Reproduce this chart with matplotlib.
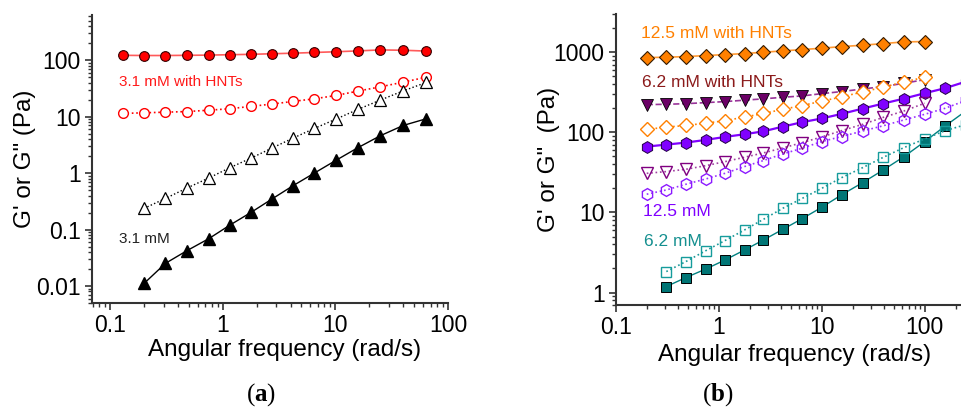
import matplotlib.pyplot as plt
import matplotlib.ticker as ticker
import numpy as np

plt.rcParams['font.family'] = ['Liberation Sans', 'DejaVu Sans']
plt.rcParams['mathtext.fontset'] = 'custom'
plt.rcParams['mathtext.bf'] = 'Liberation Serif:bold'
plt.rcParams['mathtext.rm'] = 'Liberation Serif'

# angular frequency (rad/s)
w_a = [0.13, 0.2, 0.31, 0.48, 0.75, 1.15, 1.78, 2.73, 4.2, 6.5, 10.1, 15.8, 25, 40, 64]
w_b = [0.2, 0.31, 0.48, 0.75, 1.15, 1.78, 2.72, 4.2, 6.47, 10, 15.6, 25, 39.7, 63, 100, 158, 251]

# (a) 3.1 mM with HNTs
g1_hnt = [122, 121, 121, 122, 123, 125, 127, 130, 133, 137, 141, 146, 152, 150, 145]
g2_hnt = [11.4, 11.7, 12.0, 12.3, 13.0, 13.8, 15.2, 16.7, 18.6, 20.7, 23.7, 28.3, 33.7, 40.8, 50]
# (a) 3.1 mM, no HNTs (starts at 0.2 rad/s)
g1_31 = [0.0111, 0.0252, 0.0422, 0.0688, 0.119, 0.201, 0.347, 0.597, 1.0, 1.68, 2.81, 4.58, 6.98, 9.17]
g2_31 = [0.237, 0.356, 0.543, 0.817, 1.24, 1.84, 2.77, 4.16, 6.18, 9.03, 13.4, 19.6, 28.6, 40.3]

# (b) 12.5 mM with HNTs
g1_125h = [858, 866, 883, 909, 935, 962, 1000, 1039, 1080, 1122, 1177, 1223, 1283, 1346, 1359]
g2_125h = [109, 116, 122, 130, 140, 155, 172, 194, 216, 245, 277, 320, 366, 426, 487]
# (b) 6.2 mM with HNTs
g1_62h = [222, 224, 228, 235, 242, 252, 262, 274, 285, 304, 323, 348, 373, 410, 455]
g2_62h = [30.8, 32.4, 34.6, 38.4, 43.1, 48.9, 55.4, 63.9, 74.5, 87.7, 105, 126, 154, 185, 231]
# (b) 12.5 mM
g1_125 = [66.4, 70.3, 74.5, 80.5, 87.7, 94.7, 103, 118, 134, 149, 170, 198, 229, 264, 308, 356, 430]
g2_125 = [16.9, 19.1, 22.5, 26.2, 30.8, 37.4, 44.5, 53.8, 63.4, 76.8, 88.6, 104, 121, 143, 168, 200, 250]
# (b) 6.2 mM (starts at 0.31 rad/s)
g1_62 = [1.19, 1.54, 1.97, 2.55, 3.40, 4.54, 6.17, 8.38, 11.6, 16.6, 23.6, 34.0, 49.8, 76.7, 120, 185]
g2_62 = [1.83, 2.44, 3.34, 4.46, 6.05, 8.22, 11.3, 15.0, 20.0, 27.2, 36.3, 48.9, 64.6, 82.8, 105, 125]

fig = plt.figure(figsize=(9.61, 4.07), dpi=100)
ax1 = fig.add_axes([0.0957, 0.2555, 0.3705, 0.7075])
ax2 = fig.add_axes([0.6407, 0.2506, 0.3593, 0.715])


def style(ax):
    ax.set_xscale('log')
    ax.set_yscale('log')
    for s in ['top', 'right']:
        ax.spines[s].set_visible(False)
    for s in ['left', 'bottom']:
        ax.spines[s].set_linewidth(1.5)
        ax.spines[s].set_color('#333333')
    ax.tick_params(which='major', direction='out', length=5, width=1.2,
                   labelsize=16.5, color='#333333', pad=3)
    ax.tick_params(which='minor', direction='out', length=3, width=1.0, color='#333333')
    fmt = ticker.FuncFormatter(lambda v, p: '%g' % v)
    ax.xaxis.set_major_formatter(fmt)
    ax.yaxis.set_major_formatter(fmt)
    ax.xaxis.set_minor_formatter(ticker.NullFormatter())
    ax.yaxis.set_minor_formatter(ticker.NullFormatter())
    ax.xaxis.set_minor_locator(ticker.LogLocator(subs=np.arange(2, 10), numticks=20))
    ax.yaxis.set_minor_locator(ticker.LogLocator(subs=np.arange(2, 10), numticks=20))


# ---- (a) ----
style(ax1)
ax1.plot(w_a, g1_hnt, '-', color='#ff5a5a', lw=1.2, marker='o', ms=7,
         mfc='#ff0000', mec='#330000', mew=0.8)
ax1.plot(w_a, g2_hnt, ':', color='#ff0000', lw=1.2, marker='o', ms=7,
         mfc='white', mec='#ff0000', mew=1.0)
ax1.plot(w_a[1:], g2_31, ':', color='black', lw=1.0, marker='^', ms=8.5,
         mfc='white', mec='black', mew=0.9)
ax1.plot(w_a[1:], g1_31, '-', color='black', lw=1.0, marker='^', ms=8.5,
         mfc='black', mec='black')
ax1.set_xlim(0.069, 100)
ax1.set_ylim(0.005, 630)
ax1.set_yticks([0.01, 0.1, 1, 10, 100])
ax1.set_xticks([0.1, 1, 10, 100])
ax1.text(0.12, 41, '3.1 mM with HNTs', color='#ff1a1a', fontsize=11, va='center')
ax1.text(0.12, 0.069, '3.1 mM', color='#222222', fontsize=11, va='center')
ax1.set_xlabel('Angular frequency (rad/s)', fontsize=17.5)
ax1.xaxis.set_label_coords(0.542, -0.125)
ax1.set_ylabel('G\' or G" (Pa)', fontsize=17.5)
ax1.yaxis.set_label_coords(-0.157, 0.5)

# ---- (b) ----
style(ax2)
ax2.plot(w_b[:15], g1_125h, '-', color='#ff9933', lw=1.2, marker='D', ms=7,
         mfc='#ff8000', mec='#331a00', mew=0.8, zorder=3)
ax2.plot(w_b[:15], g1_62h, '--', color='#993399', lw=1.2, marker='v', ms=8.5,
         mfc='#6b0066', mec='black', mew=0.6, zorder=3)
ax2.plot(w_b[:15], g2_125h, ':', color='#ff8000', lw=1.2, marker='D', ms=7,
         mfc='white', mec='#ff8000', mew=1.0, zorder=4)
ax2.plot(w_b, g1_125, '-', color='#8000ff', lw=1.6, marker='h', ms=8.5,
         mfc='#8000ff', mec='#220044', mew=0.7, zorder=3)
ax2.plot(w_b[:15], g2_62h, ':', color='#a040a0', lw=1.2, marker='v', ms=8.5,
         mfc='none', mec='#800080', mew=1.0, zorder=3)
ax2.plot(w_b, g2_125, ':', color='#9933ff', lw=1.2, marker='h', ms=8.5,
         mfc='none', mec='#8c1aff', mew=1.0, zorder=3)
ax2.plot(w_b[1:], g1_62, '-', color='#008080', lw=1.0, marker='s', ms=6.5,
         mfc='#007575', mec='black', mew=0.7, zorder=3)
ax2.plot(w_b[1:], g2_62, ':', color='#1a9999', lw=1.2, marker='s', ms=6.5,
         mfc='none', mec='#169c9c', mew=1.0, zorder=3)
ax2.set_xlim(0.1, 225)
ax2.set_ylim(0.70, 3000)
ax2.set_yticks([1, 10, 100, 1000])
ax2.set_xticks([0.1, 1, 10, 100])
ax2.text(0.177, 1700, '12.5 mM with HNTs', color='#ff8000', fontsize=12.5, va='center')
ax2.text(0.18, 420, '6.2 mM with HNTs', color='#8b1a1a', fontsize=12.5, va='center')
ax2.text(0.183, 10.2, '12.5 mM', color='#8000ff', fontsize=12.5, va='center')
ax2.text(0.19, 4.3, '6.2 mM', color='#148f8f', fontsize=12.5, va='center')
ax2.set_xlabel('Angular frequency (rad/s)', fontsize=17.5)
ax2.xaxis.set_label_coords(0.519, -0.134)
ax2.set_ylabel('G\' or G"  (Pa)', fontsize=17.5)
ax2.yaxis.set_label_coords(-0.161, 0.5)

fig.text(0.272, 0.03, r'($\mathbf{a}$)', fontsize=18, ha='center', va='center',
         family='Liberation Serif')
fig.text(0.747, 0.03, r'($\mathbf{b}$)', fontsize=18, ha='center', va='center',
         family='Liberation Serif')

fig.savefig('out.png', dpi=100)
